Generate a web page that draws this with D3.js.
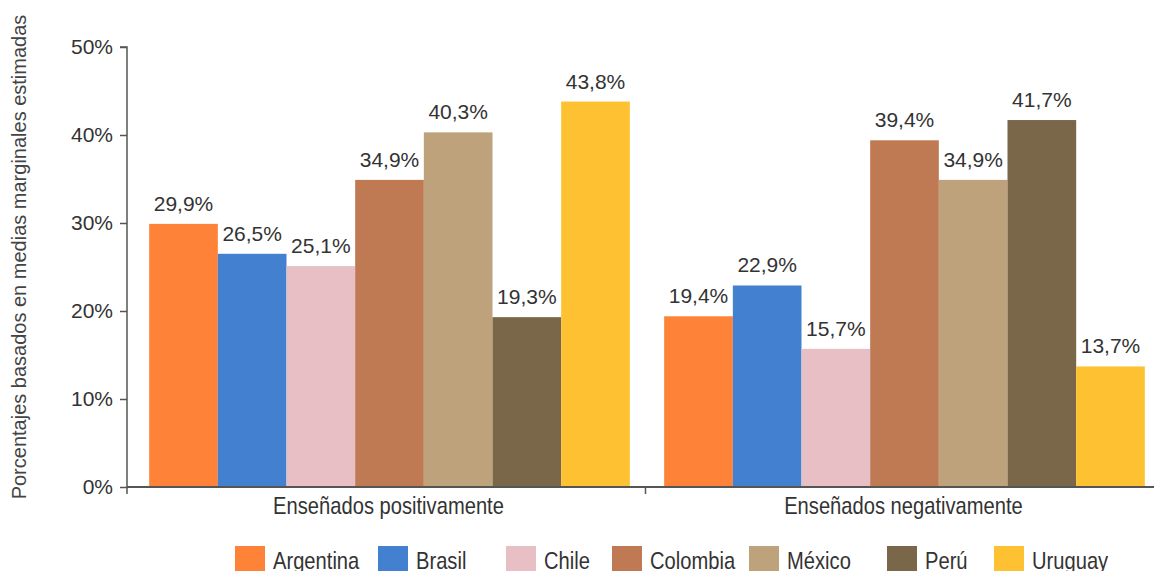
<!DOCTYPE html>
<html>
<head>
<meta charset="utf-8">
<script src="https://cdn.jsdelivr.net/npm/d3@7"></script>
<style>
  html, body { margin: 0; padding: 0; background: #fff; }
  svg { display: block; }
</style>
</head>
<body>
<svg id="chart" width="1154" height="571"></svg>
<script>
const groups = ["Enseñados positivamente", "Enseñados negativamente"];
const countries = ["Argentina", "Brasil", "Chile", "Colombia", "México", "Perú", "Uruguay"];
const positivos = [29.9, 26.5, 25.1, 34.9, 40.3, 19.3, 43.8];
const negativos = [19.4, 22.9, 15.7, 39.4, 34.9, 41.7, 13.7];
const yTicks = [0, 10, 20, 30, 40, 50];
const colors = ["#FE8237", "#4381D0", "#E8BFC5", "#BF7A53", "#BEA27B", "#7A6749", "#FEC132"];
const yTitle = "Porcentajes basados en medias marginales estimadas";

const seriesByGroup = [positivos, negativos];
const rows = [];
groups.forEach((g, gi) => countries.forEach((c, ci) => rows.push({ group: g, country: c, value: seriesByGroup[gi][ci] })));

const svg = d3.select("#chart");
const numFont = "'Liberation Sans', Arial, sans-serif";
const narrowFont = "'Liberation Sans', Arial, sans-serif";
const narrowScale = 0.84;
const textColor = "#333";
const axisColor = "#555";

const x0 = d3.scaleBand().domain(groups).range([132, 1162]).paddingInner(0).paddingOuter(0);
const x1 = d3.scaleBand().domain(countries).range([0, x0.bandwidth()]).paddingInner(0).paddingOuter(0.25);
const y = d3.scaleLinear().domain([0, 50]).range([487, 47]);
const color = d3.scaleOrdinal().domain(countries).range(colors);

// bars
svg.append("g").selectAll("rect").data(rows).join("rect")
  .attr("x", d => x0(d.group) + x1(d.country))
  .attr("y", d => y(d.value))
  .attr("width", x1.bandwidth())
  .attr("height", d => y(0) - y(d.value))
  .attr("fill", d => color(d.country));

// value labels
svg.append("g").selectAll("text").data(rows).join("text")
  .attr("x", d => x0(d.group) + x1(d.country) + x1.bandwidth() / 2)
  .attr("y", d => y(d.value) - 13)
  .attr("text-anchor", "middle")
  .attr("font-family", numFont)
  .attr("font-size", 21)
  .attr("fill", textColor)
  .text(d => d3.format(".1f")(d.value).replace(".", ",") + "%");

// y axis
const yAxis = d3.axisLeft(y).tickValues(yTicks).tickSize(7).tickPadding(7).tickFormat(d => d + "%");
const gy = svg.append("g").attr("transform", "translate(127,0)").call(yAxis);
gy.select(".domain").attr("stroke", axisColor).attr("stroke-width", 1.5).attr("d", `M-7,${y(50)}H0V${y(0)}`);
gy.selectAll(".tick line").attr("stroke", axisColor).attr("stroke-width", 1.5);
gy.selectAll(".tick text").attr("font-family", numFont).attr("font-size", 21).attr("fill", textColor);

// x axis
const gx = svg.append("g").attr("transform", `translate(0,${y(0)})`);
gx.append("line").attr("x1", 127).attr("x2", 1154).attr("y1", 0).attr("y2", 0)
  .attr("stroke", axisColor).attr("stroke-width", 2);
const boundaries = [127, x0(groups[1]) - 1.5];
gx.selectAll("line.tick").data(boundaries).join("line")
  .attr("class", "tick")
  .attr("x1", d => d).attr("x2", d => d).attr("y1", 0).attr("y2", 7)
  .attr("stroke", axisColor).attr("stroke-width", 1.5);
gx.selectAll("text").data(groups).join("text")
  .attr("transform", d => `translate(${x0(d) + x0.bandwidth() / 2 - 1},27) scale(${narrowScale},1)`)
  .attr("text-anchor", "middle")
  .attr("font-family", narrowFont)
  .attr("font-size", 24)
  .attr("fill", textColor)
  .text(d => d);

// y title
svg.append("text")
  .attr("transform", "translate(26,257) rotate(-90)")
  .attr("text-anchor", "middle")
  .attr("font-family", numFont)
  .attr("font-size", 20)
  .attr("fill", "#444")
  .text(yTitle);

// legend
const legendX = [235, 378, 506, 612, 749, 887, 994];
const lg = svg.append("g").selectAll("g").data(countries).join("g")
  .attr("transform", (d, i) => `translate(${legendX[i]},546)`);
lg.append("rect").attr("width", 30).attr("height", 30).attr("fill", d => color(d));
lg.append("text")
  .attr("transform", `translate(38,23) scale(${narrowScale},1)`)
  .attr("font-family", narrowFont)
  .attr("font-size", 24)
  .attr("fill", textColor)
  .text(d => d);
</script>
</body>
</html>
